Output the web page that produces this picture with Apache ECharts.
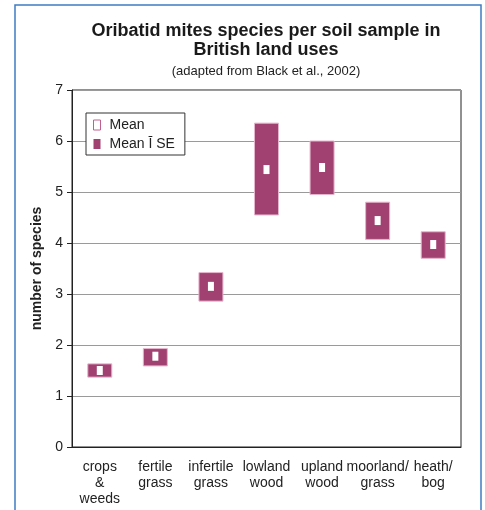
<!DOCTYPE html>
<html>
<head>
<meta charset="utf-8">
<script src="https://cdn.jsdelivr.net/npm/echarts@6/dist/echarts.min.js"></script>
<style>html,body{margin:0;padding:0;background:#fff}#c{width:485px;height:510px}</style>
</head>
<body>
<div id="c"></div>
<script>
var categories = ['crops\n&\nweeds', 'fertile\ngrass', 'infertile\ngrass', 'lowland\nwood', 'upland\nwood', 'moorland/\ngrass', 'heath/\nbog'];
var meanValues = [1.50, 1.78, 3.15, 5.44, 5.48, 4.44, 3.97];
var seLow = [1.37, 1.59, 2.86, 4.55, 4.95, 4.07, 3.70];
var seHigh = [1.63, 1.93, 3.42, 6.35, 6.00, 4.80, 4.22];
var yTicks = [0, 1, 2, 3, 4, 5, 6, 7];

var FONT = 'Liberation Sans, Arial, Helvetica, sans-serif';
var BOX = '#a14171';

var boxData = categories.map(function (c, i) { return [i, seLow[i], seHigh[i]]; });
var meanData = categories.map(function (c, i) { return [i, meanValues[i]]; });

var chart = echarts.init(document.getElementById('c'), null, {renderer: 'canvas'});
chart.setOption({
  animation: false,
  backgroundColor: '#fff',
  textStyle: {fontFamily: FONT},
  title: [
    {text: 'Oribatid mites species per soil sample in\nBritish land uses', left: 266, top: 22, textAlign: 'center', padding: 0,
     textStyle: {fontFamily: FONT, fontSize: 18, fontWeight: 'bold', lineHeight: 18.5, color: '#1a1a1a'}},
    {text: '(adapted from Black et al., 2002)', left: 266, top: 65, textAlign: 'center', padding: 0,
     textStyle: {fontFamily: FONT, fontSize: 13, fontWeight: 'normal', color: '#222'}}
  ],
  graphic: [
    {type: 'polyline', shape: {points: [[15, 515], [15, 5], [481, 5], [481, 515]]},
     style: {stroke: '#3d7cc2', lineWidth: 1.5, fill: null}, silent: true}
  ],
  legend: {
    left: 86, top: 113, orient: 'vertical', padding: [5, 10, 4, 7], itemGap: 5,
    itemWidth: 7, itemHeight: 10,
    backgroundColor: '#fff', borderColor: '#333', borderWidth: 1, borderRadius: 0,
    textStyle: {fontFamily: FONT, fontSize: 14, color: '#222', padding: [0, 0, 0, 4]},
    selectedMode: false,
    data: [
      {name: 'Mean', icon: 'rect', itemStyle: {color: '#fff', borderColor: '#c06090', borderWidth: 1}},
      {name: 'Mean Ī SE', icon: 'rect', itemStyle: {color: BOX, borderColor: BOX, borderWidth: 0}}
    ]
  },
  grid: {left: 72, right: 24, top: 90, bottom: 63, show: true, borderColor: '#222', borderWidth: 1, backgroundColor: 'transparent'},
  xAxis: {
    type: 'category', data: categories, boundaryGap: true,
    axisLine: {lineStyle: {color: '#222', width: 1}},
    axisTick: {alignWithLabel: true, length: 6, lineStyle: {color: '#222'}},
    axisLabel: {interval: 0, margin: 12, fontFamily: FONT, fontSize: 14, lineHeight: 16, color: '#222'}
  },
  yAxis: {
    type: 'value', min: yTicks[0], max: yTicks[yTicks.length - 1], interval: 1,
    name: 'number of species', nameLocation: 'middle', nameGap: 28,
    nameTextStyle: {fontFamily: FONT, fontSize: 14, fontWeight: 'bold', color: '#222'},
    axisLine: {show: true, lineStyle: {color: '#222', width: 1}},
    axisTick: {show: true, length: 5, lineStyle: {color: '#222'}},
    axisLabel: {margin: 9, fontFamily: FONT, fontSize: 14, color: '#222'},
    splitLine: {show: true, lineStyle: {color: '#9a9a9a', width: 1}}
  },
  series: [
    {
      name: 'Mean Ī SE', type: 'custom', data: boxData, z: 2,
      itemStyle: {color: BOX},
      encode: {x: 0, y: [1, 2]},
      renderItem: function (params, api) {
        var x = api.value(0);
        var lo = api.coord([x, api.value(1)]);
        var hi = api.coord([x, api.value(2)]);
        var w = 24;
        return {
          type: 'rect',
          shape: {x: lo[0] - w / 2, y: hi[1], width: w, height: lo[1] - hi[1]},
          style: {fill: BOX, stroke: '#e6b4cc', lineWidth: 1}
        };
      }
    },
    {
      name: 'Mean', type: 'scatter', data: meanData, z: 3,
      symbol: 'rect', symbolSize: [6, 9],
      itemStyle: {color: '#fff', borderWidth: 0, opacity: 1}
    }
  ]
});
</script>
</body>
</html>
